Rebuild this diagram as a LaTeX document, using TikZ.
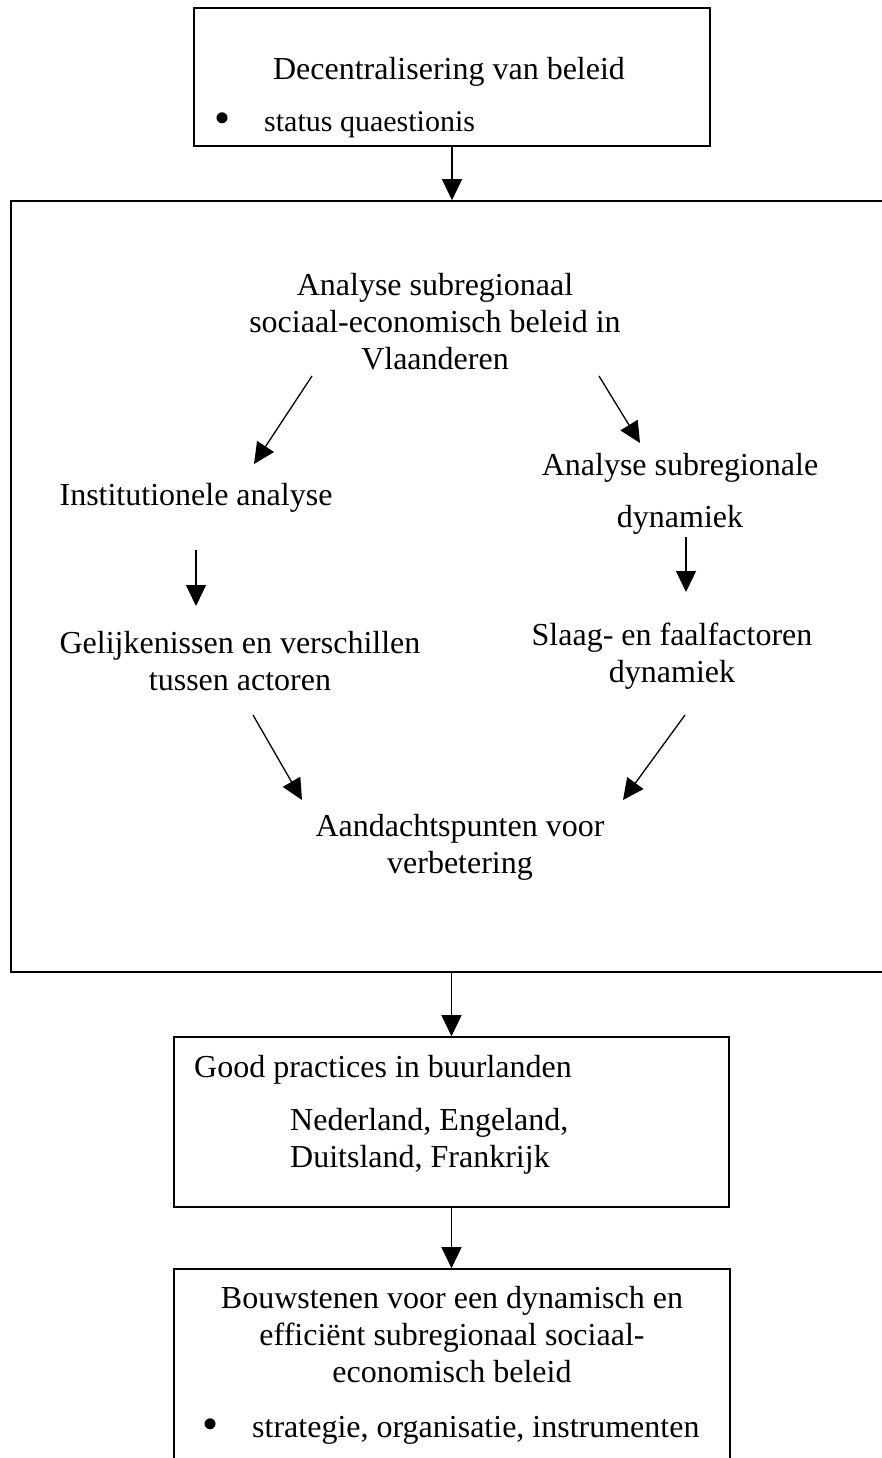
\documentclass[tikz,border=0pt]{standalone}
\usepackage{fontspec}
\setmainfont{Liberation Serif}
\usetikzlibrary{arrows.meta}
\begin{document}
\begin{tikzpicture}[x=1pt,y=-1pt,
  box/.style={draw, line width=1.6pt, inner sep=0pt},
  txt/.style={anchor=base, align=center, font=\fontsize{32}{37}\selectfont, inner sep=0pt},
  bul/.style={anchor=center, inner sep=0pt, font=\fontsize{46}{46}\selectfont},
  arr/.style={line width=1.3pt, -{Triangle[length=21pt,width=20pt]}}]
\useasboundingbox (0,0) rectangle (882,1458);
% boxes
\node[box, minimum width=516pt, minimum height=138pt] (top) at (452,77) {};
\node[box, minimum width=890pt, minimum height=771pt] (big) at (456,586.5) {};
\node[box, minimum width=555pt, minimum height=170pt] (good) at (451.5,1122) {};
\node[box, minimum width=556pt, minimum height=210pt] (bot) at (452,1374) {};
% texts (multi-line nodes are placed at the baseline of their last line)
\node[txt] (dec) at (449,80) {Decentralisering van beleid};
\node[bul] (b1) at (223,123) {\textbullet};
\node[txt, anchor=base west, font=\fontsize{30}{35}\selectfont] (sq) at (264,132) {status quaestionis};
\node[txt] (ana) at (435,369) {Analyse subregionaal\\sociaal-economisch beleid in\\Vlaanderen};
\node[txt] (inst) at (196,505) {Institutionele analyse};
\node[txt] (asd) at (680,527) {Analyse subregionale\\[15pt]dynamiek};
\node[txt] (gel) at (240,690) {Gelijkenissen en verschillen\\tussen actoren};
\node[txt] (slaag) at (672,682) {Slaag- en faalfactoren\\dynamiek};
\node[txt] (aand) at (460,873) {Aandachtspunten voor\\verbetering};
\node[txt, anchor=base west] (gp) at (194,1077) {Good practices in buurlanden};
\node[txt, anchor=base west, align=left] (land) at (290,1167) {Nederland, Engeland,\\Duitsland, Frankrijk};
\node[txt] (bouw) at (452,1382) {Bouwstenen voor een dynamisch en\\efficiënt subregionaal sociaal-\\economisch beleid};
\node[bul] (b2) at (211,1429) {\textbullet};
\node[txt, anchor=base west] (strat) at (252,1437) {strategie, organisatie, instrumenten};
% connector end points
\coordinate (d1s) at (312,376); \coordinate (d1e) at (254,464);
\coordinate (d2s) at (599,376); \coordinate (d2e) at (640,443);
\coordinate (v1s) at (196,550); \coordinate (v1e) at (196,606);
\coordinate (v2s) at (686,537); \coordinate (v2e) at (686,592);
\coordinate (d3s) at (253,715); \coordinate (d3e) at (302,800);
\coordinate (d4s) at (685,715); \coordinate (d4e) at (623,800);
% connectors
\draw[arr] (top.south) -- (top.south |- big.north);
\draw[arr] (good.north |- big.south) -- (good.north);
\draw[arr] (good.south) -- (good.south |- bot.north);
\draw[arr] (d1s) -- (d1e);
\draw[arr] (d2s) -- (d2e);
\draw[arr] (v1s) -- (v1e);
\draw[arr] (v2s) -- (v2e);
\draw[arr] (d3s) -- (d3e);
\draw[arr] (d4s) -- (d4e);
\end{tikzpicture}
\end{document}
